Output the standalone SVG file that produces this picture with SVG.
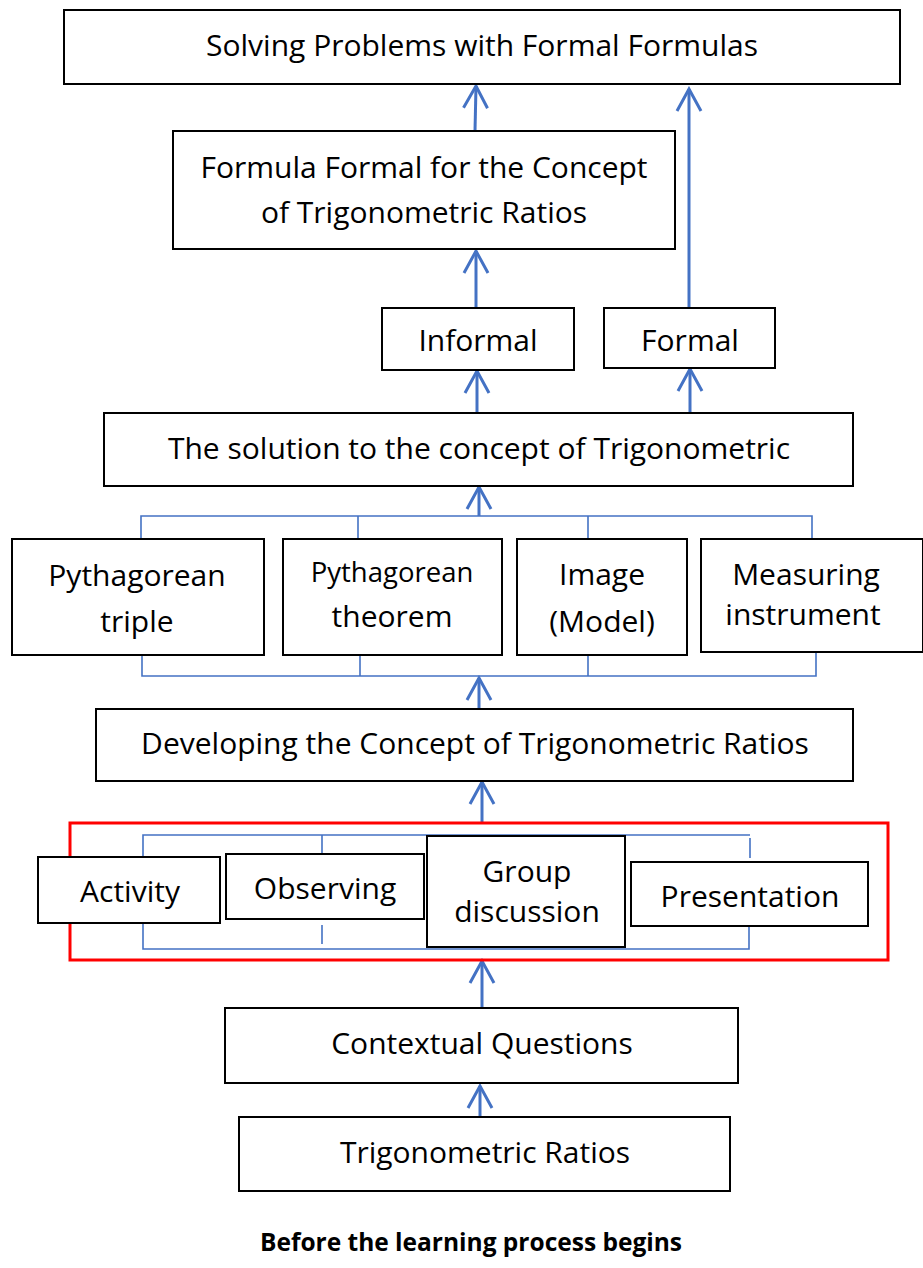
<svg xmlns="http://www.w3.org/2000/svg" width="923" height="1268" viewBox="0 0 923 1268">
<style>
.box{fill:#fff;stroke:#000;stroke-width:2}
.t{font-family:"Open Sans","Noto Sans",sans-serif;font-size:30px;fill:#000;text-anchor:middle}
.s{font-size:27.5px}
.cap{font-family:"Open Sans","Noto Sans",sans-serif;font-size:24.5px;font-weight:bold;fill:#000;text-anchor:middle}
.arr{stroke:#4472C4;stroke-width:3;fill:none}
.br{stroke:#4472C4;stroke-width:1.6;fill:none}
.red{stroke:#FF0000;stroke-width:3;fill:none}
</style>
<defs>
<marker id="ah" markerWidth="26" markerHeight="28" viewBox="0 0 26 28" refX="23" refY="14" orient="auto" markerUnits="userSpaceOnUse">
<path d="M1,2 L23,14 L1,26" fill="none" stroke="#4472C4" stroke-width="3"/>
</marker>
</defs>
<g id="connectors">
<line class="arr" x1="475" y1="131" x2="476" y2="86" marker-end="url(#ah)"/>
<line class="arr" x1="689" y1="307" x2="689" y2="89" marker-end="url(#ah)"/>
<line class="arr" x1="476" y1="308" x2="476" y2="251" marker-end="url(#ah)"/>
<line class="arr" x1="477" y1="413" x2="477" y2="371" marker-end="url(#ah)"/>
<line class="arr" x1="690" y1="413" x2="690" y2="369" marker-end="url(#ah)"/>
<line class="arr" x1="479" y1="516" x2="479" y2="487" marker-end="url(#ah)"/>
<path class="br" d="M141,540 V516 H812 V540 M358,516 V539 M588,516 V539"/>
<path class="br" d="M142,652 V676 H816 V652 M360,652 V676 M588,652 V676"/>
<line class="arr" x1="479" y1="709" x2="479" y2="678" marker-end="url(#ah)"/>
<line class="arr" x1="482" y1="823" x2="482" y2="782" marker-end="url(#ah)"/>
<path class="br" d="M143,857 V835 H750 M322,835 V855 M750,838 V858"/>
<path class="br" d="M143,920 V949 H749 V925 M322,925 V944"/>
<line class="arr" x1="482" y1="1008" x2="482" y2="961" marker-end="url(#ah)"/>
<line class="arr" x1="480" y1="1117" x2="480" y2="1086" marker-end="url(#ah)"/>
</g>
<rect id="group-frame" class="red" x="70" y="823" width="818" height="137"/>
<g id="n-solving"><rect class="box" x="64" y="10" width="836" height="74"/><text class="t" x="482" y="56">Solving Problems with Formal Formulas</text></g>
<g id="n-formula"><rect class="box" x="173" y="131" width="502" height="118"/><text class="t" x="424" y="178">Formula Formal for the Concept</text><text class="t" x="424" y="223">of Trigonometric Ratios</text></g>
<g id="n-informal"><rect class="box" x="382" y="308" width="192" height="62"/><text class="t" x="478" y="351">Informal</text></g>
<g id="n-formal"><rect class="box" x="604" y="308" width="171" height="60"/><text class="t" x="690" y="351">Formal</text></g>
<g id="n-solution"><rect class="box" x="104" y="413" width="749" height="73"/><text class="t" x="479" y="459">The solution to the concept of Trigonometric</text></g>
<g id="n-triple"><rect class="box" x="12" y="539" width="252" height="116"/><text class="t" x="137" y="586">Pythagorean</text><text class="t" x="137" y="632">triple</text></g>
<g id="n-theorem"><rect class="box" x="283" y="539" width="219" height="116"/><text class="t s" x="392" y="582">Pythagorean</text><text class="t" x="392" y="627">theorem</text></g>
<g id="n-image"><rect class="box" x="517" y="539" width="170" height="116"/><text class="t" x="602" y="585">Image</text><text class="t" x="602" y="632">(Model)</text></g>
<g id="n-measuring"><rect class="box" x="701" y="539" width="222" height="113"/><text class="t" x="806" y="585">Measuring</text><text class="t" x="803" y="625">instrument</text></g>
<g id="n-developing"><rect class="box" x="96" y="709" width="757" height="72"/><text class="t" x="475" y="754">Developing the Concept of Trigonometric Ratios</text></g>
<g id="n-activity"><rect class="box" x="38" y="857" width="182" height="66"/><text class="t" x="130" y="902">Activity</text></g>
<g id="n-observing"><rect class="box" x="226" y="854" width="198" height="65"/><text class="t" x="325" y="899">Observing</text></g>
<g id="n-group"><rect class="box" x="427" y="836" width="198" height="111"/><text class="t" x="527" y="882">Group</text><text class="t" x="527" y="922">discussion</text></g>
<g id="n-presentation"><rect class="box" x="631" y="862" width="237" height="64"/><text class="t" x="750" y="907">Presentation</text></g>
<g id="n-contextual"><rect class="box" x="225" y="1008" width="513" height="75"/><text class="t" x="482" y="1054">Contextual Questions</text></g>
<g id="n-trig"><rect class="box" x="239" y="1117" width="491" height="74"/><text class="t" x="485" y="1163">Trigonometric Ratios</text></g>
<text class="cap" x="471" y="1251">Before the learning process begins</text>
</svg>
